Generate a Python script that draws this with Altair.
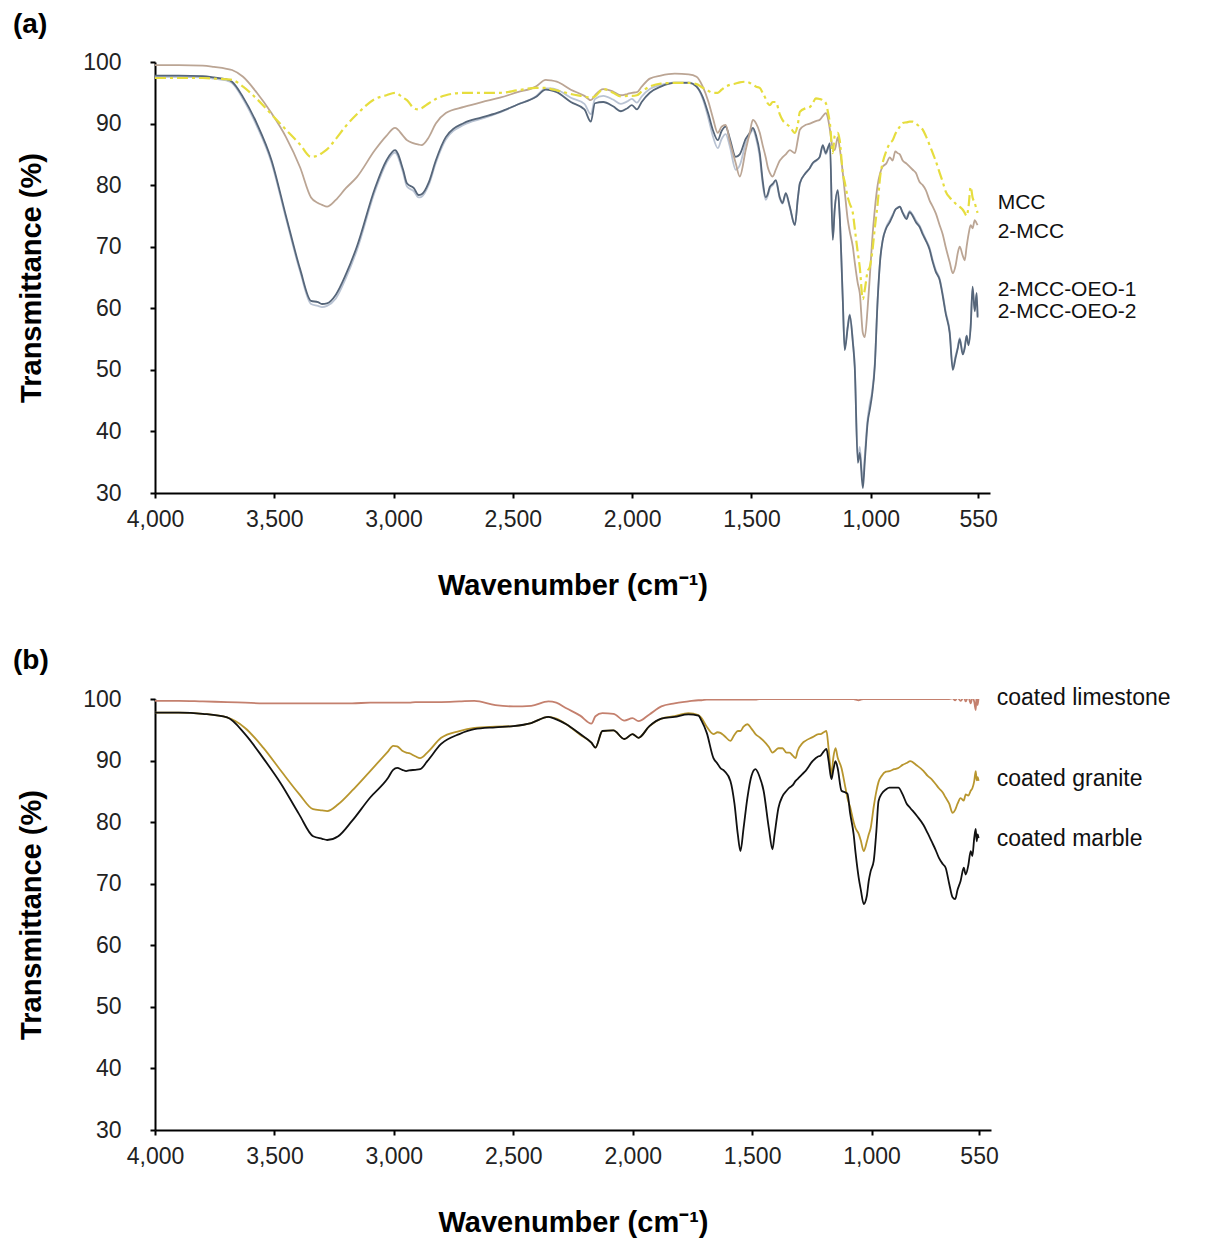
import altair as alt
import pandas as pd

# ---------------- Panel (a) ----------------
WN_A = [4000, 3900, 3800, 3753, 3700, 3677, 3631, 3573, 3512, 3451, 3392, 3346, 3317, 3300, 3279, 3242,
        3200, 3154, 3078, 3030, 2994, 2960, 2944, 2915, 2895, 2883, 2852, 2823, 2781, 2705, 2630, 2554,
        2480, 2404, 2362, 2340, 2316, 2257, 2200, 2173, 2156, 2121, 2080, 2047, 2020, 2001, 1980, 1960,
        1926, 1880, 1821, 1763, 1730, 1704, 1680, 1662, 1641, 1625, 1608, 1590, 1566, 1549, 1524, 1507,
        1494, 1480, 1465, 1453, 1440, 1432, 1423, 1411, 1398, 1381, 1370, 1356, 1339, 1318, 1305, 1297,
        1272, 1255, 1243, 1230, 1214, 1201, 1188, 1180, 1171, 1159, 1151, 1138, 1130, 1117, 1109, 1096,
        1088, 1075, 1067, 1054, 1046, 1033, 1025, 1013, 1004, 994, 983, 971, 960, 950, 935, 920,
        908, 897, 887, 878, 866, 850, 837, 824, 811, 795, 782, 769, 753, 740, 728, 711,
        698, 686, 669, 656, 644, 635, 627, 614, 606, 598, 590, 581, 573, 564, 556, 552]

MCC = [97.4, 97.4, 97.4, 97.3, 97.2, 97.1, 96.0, 94.0, 91.5, 89.0, 86.6, 84.6, 84.8, 85.2, 85.8, 87.5,
       89.6, 91.5, 94.0, 94.6, 95.0, 94.2, 93.8, 92.5, 92.3, 92.5, 93.3, 94.0, 94.6, 95.0, 95.0, 95.0,
       95.4, 95.8, 95.8, 95.6, 95.4, 94.8, 94.4, 94.2, 94.4, 95.6, 95.0, 94.4, 94.5, 94.5, 94.6, 95.2,
       96.0, 96.5, 96.6, 96.6, 96.4, 95.8, 95.3, 95.0, 95.0, 95.5, 96.0, 96.3, 96.5, 96.7, 96.8, 96.6,
       96.3, 96.0, 95.8, 95.0, 94.0, 93.3, 93.0, 93.5, 93.5, 91.5, 90.6, 90.0, 89.5, 88.5, 90.0, 91.9,
       92.5, 92.7, 93.3, 94.1, 94.0, 93.8, 93.3, 92.0, 90.0, 85.2, 88.0, 88.5, 87.3, 82.0, 80.5, 78.0,
       77.0, 75.5, 73.0, 69.0, 66.7, 61.5, 63.0, 66.0, 66.7, 69.0, 73.0, 77.0, 81.5, 83.6, 85.5, 86.8,
       87.3, 88.3, 89.0, 89.5, 90.1, 90.2, 90.3, 90.3, 90.0, 89.5, 89.0, 88.0, 86.5, 85.2, 84.0, 82.0,
       80.5, 79.0, 78.0, 77.5, 77.0, 76.8, 76.5, 76.0, 75.5, 75.0, 76.5, 79.7, 78.0, 77.1, 76.0, 75.5]

MCC2 = [99.5, 99.5, 99.4, 99.2, 98.9, 98.7, 97.6, 95.0, 91.7, 87.8, 82.9, 78.0, 77.1, 76.8, 76.5, 77.6,
        79.5, 81.3, 85.7, 88.0, 89.3, 88.0, 87.3, 86.8, 86.6, 86.5, 87.8, 90.0, 91.7, 92.7, 93.5, 94.2,
        95.1, 96.0, 97.1, 97.0, 96.8, 95.5, 94.5, 93.8, 94.6, 95.6, 95.2, 94.6, 94.8, 95.0, 95.1, 96.0,
        97.3, 97.8, 98.1, 98.0, 97.6, 96.0, 93.5, 91.0, 88.5, 89.5, 89.8, 87.0, 83.6, 81.4, 85.7, 88.5,
        90.6, 90.0, 88.5, 86.5, 84.5, 83.0, 82.0, 81.4, 82.5, 84.0, 84.5, 85.0, 85.7, 85.2, 87.5, 89.0,
        89.8, 90.0, 90.2, 90.4, 90.6, 91.2, 91.7, 91.0, 89.0, 86.0, 85.7, 87.8, 86.0, 82.0, 79.0, 74.3,
        72.5, 70.0, 67.5, 64.0, 62.5, 56.0, 55.3, 60.0, 65.0, 71.0, 76.0, 80.0, 82.0, 83.0, 83.5, 84.5,
        84.0, 85.5, 85.2, 85.0, 84.0, 83.5, 83.0, 82.5, 82.0, 80.5, 80.0, 79.2, 77.5, 76.5, 75.5, 73.5,
        72.0, 70.0, 67.5, 65.7, 67.0, 69.0, 70.0, 68.5, 67.8, 70.0, 72.0, 73.5, 73.0, 74.3, 73.8, 73.5]

OEO1 = [97.6, 97.6, 97.5, 97.3, 97.0, 96.6, 94.0, 89.6, 83.7, 74.6, 66.0, 60.7, 60.4, 60.2, 60.4, 61.6,
        64.9, 69.4, 79.0, 83.6, 85.3, 82.0, 79.8, 79.0, 78.0, 78.1, 80.1, 83.6, 87.4, 89.8, 90.8, 91.8,
        93.1, 94.4, 95.7, 95.7, 95.5, 94.2, 93.2, 91.5, 94.0, 94.5, 93.9, 93.2, 93.6, 94.0, 93.4, 94.4,
        95.6, 96.3, 96.7, 96.7, 96.0, 94.0, 90.8, 88.0, 86.0, 87.5, 88.3, 86.2, 82.5, 83.2, 86.8, 88.2,
        89.0, 87.5, 84.5, 80.2, 77.6, 78.2, 79.4, 80.0, 80.6, 77.8, 77.0, 78.5, 76.3, 73.6, 78.0, 80.3,
        82.0, 82.8, 83.5, 83.9, 84.5, 86.3, 85.0, 85.8, 86.5, 71.5, 76.2, 79.0, 75.0, 61.5, 53.5, 57.2,
        59.0, 54.8, 50.8, 35.5, 37.5, 32.0, 36.0, 42.0, 44.5, 46.5, 51.0, 61.3, 68.0, 71.0, 73.2, 74.3,
        75.2, 76.0, 76.4, 76.5, 75.6, 74.8, 75.8, 75.2, 74.3, 73.4, 72.3, 71.2, 69.8, 67.8, 66.3, 64.8,
        62.3, 59.5, 56.3, 50.5, 52.3, 53.7, 55.2, 52.8, 53.8, 55.6, 54.3, 57.2, 63.2, 59.8, 62.3, 58.8]

OEO2 = [97.8, 97.8, 97.7, 97.5, 97.2, 96.8, 94.3, 90.0, 84.1, 75.0, 66.4, 61.2, 61.0, 60.7, 60.8, 62.2,
        65.5, 70.0, 79.5, 84.0, 85.7, 82.5, 80.3, 79.5, 78.4, 78.5, 80.5, 84.0, 87.8, 90.1, 91.0, 91.9,
        93.1, 94.3, 95.5, 95.4, 95.1, 93.5, 92.3, 90.3, 93.3, 93.5, 92.8, 92.0, 92.5, 93.0, 92.3, 93.5,
        95.0, 96.0, 96.6, 96.6, 96.0, 94.3, 91.5, 89.0, 87.3, 88.8, 89.5, 87.5, 84.6, 85.0, 87.5, 88.5,
        89.3, 88.0, 85.2, 80.8, 78.0, 78.5, 79.7, 80.2, 80.8, 78.0, 77.1, 78.7, 76.5, 73.5, 78.0, 80.3,
        82.0, 82.8, 83.6, 84.0, 84.6, 86.5, 85.2, 86.0, 86.8, 71.1, 76.0, 79.2, 75.0, 61.3, 53.2, 57.0,
        58.9, 54.5, 50.5, 34.9, 36.5, 30.8, 35.0, 41.4, 43.5, 46.0, 50.5, 61.3, 68.0, 71.0, 73.0, 74.0,
        75.0, 76.0, 76.3, 76.5, 75.5, 74.5, 75.6, 75.0, 74.0, 73.2, 72.0, 71.0, 69.5, 67.5, 66.0, 64.6,
        62.0, 59.2, 56.0, 50.0, 52.0, 53.5, 55.0, 52.5, 53.5, 55.5, 54.0, 57.0, 63.5, 59.5, 62.5, 58.5]

LABELS_A = ["MCC", "2-MCC", "2-MCC-OEO-1", "2-MCC-OEO-2"]
LABELS_A_WN = [468, 468, 468, 468]
LABELS_A_VAL = [77.1, 72.4, 63.0, 59.4]

# ---------------- Panel (b) ----------------
WN_B = [4000, 3900, 3800, 3698, 3623, 3547, 3472, 3397, 3338, 3300, 3279, 3233, 3175, 3099, 3024, 3003,
        2986, 2965, 2948, 2936, 2910, 2890, 2860, 2802, 2726, 2663, 2575, 2500, 2425, 2353, 2320, 2278,
        2220, 2173, 2156, 2127, 2081, 2035, 2001, 1976, 1930, 1880, 1825, 1767, 1725, 1712, 1690, 1662,
        1645, 1633, 1616, 1591, 1574, 1560, 1549, 1536, 1520, 1503, 1486, 1470, 1452, 1430, 1415, 1406,
        1390, 1373, 1356, 1344, 1330, 1318, 1310, 1290, 1277, 1247, 1222, 1214, 1200, 1189, 1180, 1168,
        1160, 1151, 1142, 1126, 1109, 1101, 1090, 1075, 1067, 1054, 1045, 1033, 1020, 1012, 1004, 991,
        980, 971, 958, 940, 925, 905, 888, 870, 853, 838, 810, 782, 765, 749, 732, 718,
        702, 690, 675, 661, 650, 640, 627, 614, 606, 595, 585, 578, 570, 564, 560, 556, 552]

LIMESTONE = [99.7, 99.7, 99.6, 99.5, 99.4, 99.3, 99.3, 99.3, 99.3, 99.3, 99.3, 99.3, 99.3, 99.4, 99.4, 99.4,
             99.4, 99.4, 99.4, 99.4, 99.5, 99.5, 99.5, 99.5, 99.6, 99.7, 99.0, 98.8, 98.9, 99.6, 99.4, 98.5,
             97.3, 96.0, 97.2, 97.7, 97.6, 96.5, 96.9, 96.4, 97.5, 98.8, 99.3, 99.6, 99.8, 99.8, 99.9, 99.9,
             99.9, 99.9, 99.9, 99.9, 99.9, 99.9, 99.9, 99.9, 99.9, 99.9, 99.9, 100.0, 100.0, 100.0, 100.0, 100.0,
             100.0, 100.0, 100.0, 100.0, 100.0, 100.0, 100.0, 100.0, 100.0, 100.0, 100.0, 100.0, 100.0, 100.0, 100.0, 100.0,
             100.0, 100.0, 100.0, 100.0, 100.0, 100.0, 100.0, 100.0, 99.9, 99.8, 99.9, 100.0, 100.0, 100.0, 100.0, 100.0,
             100.0, 100.0, 100.0, 100.0, 100.0, 100.0, 100.0, 100.0, 100.0, 100.0, 100.0, 100.0, 100.0, 100.0, 100.0, 100.0,
             100.0, 100.0, 100.0, 100.1, 99.8, 100.2, 99.7, 100.3, 99.6, 100.4, 99.3, 100.3, 99.5, 98.2, 100.5, 99.0, 100.2]

GRANITE = [97.8, 97.8, 97.6, 97.0, 95.3, 92.1, 88.3, 84.6, 82.1, 81.9, 81.8, 82.9, 85.1, 88.3, 91.5, 92.4,
           92.3, 91.6, 91.3, 91.2, 90.7, 90.4, 91.3, 93.7, 94.8, 95.3, 95.5, 95.6, 96.1, 97.1, 96.8, 95.9,
           94.2, 92.9, 92.1, 94.8, 94.9, 93.5, 94.3, 93.7, 95.6, 96.8, 97.2, 97.7, 97.4, 96.9, 95.5, 94.3,
           94.6, 94.5, 94.0, 93.2, 94.2, 94.8, 94.8, 95.5, 95.9, 95.2, 94.3, 93.8, 93.2, 92.2, 91.3, 91.5,
           92.0, 92.0, 91.3, 91.3, 90.8, 90.4, 91.5, 92.8, 93.2, 93.8, 94.3, 94.3, 94.6, 94.8, 92.0, 87.8,
           90.5, 92.0, 90.5, 88.8, 85.5, 83.9, 82.5, 80.0, 79.0, 78.1, 77.0, 75.3, 76.8, 78.0, 79.0, 82.5,
           85.0, 86.5, 87.5, 88.2, 88.3, 88.6, 88.8, 89.3, 89.6, 89.9, 89.2, 88.3, 87.5, 87.0, 86.2, 85.5,
           84.8, 84.0, 83.0, 81.5, 82.0, 83.0, 83.9, 83.5, 84.5, 84.3, 85.1, 85.5, 86.7, 88.3, 86.8, 87.3, 86.7]

MARBLE = [97.8, 97.8, 97.6, 97.0, 94.3, 90.4, 86.2, 81.3, 77.7, 77.3, 77.1, 77.7, 80.2, 84.0, 87.2, 88.5,
          88.8, 88.5, 88.3, 88.4, 88.5, 88.6, 89.9, 92.7, 94.3, 95.1, 95.4, 95.6, 96.1, 97.1, 96.7, 95.9,
          94.3, 92.9, 92.1, 94.8, 94.9, 93.5, 94.3, 93.7, 95.6, 96.8, 97.1, 97.5, 97.3, 96.5, 94.5, 90.4,
          89.5, 88.8, 88.3, 86.7, 83.0, 78.0, 75.3, 79.0, 83.9, 87.5, 88.6, 87.5, 85.1, 79.0, 75.6, 78.0,
          82.3, 84.2, 85.1, 85.6, 86.0, 86.7, 87.0, 87.8, 88.3, 89.9, 90.7, 90.8, 91.5, 91.9, 90.0, 87.0,
          88.5, 89.9, 88.8, 85.1, 84.8, 84.6, 81.5, 78.0, 75.0, 71.0, 69.0, 66.7, 68.0, 70.4, 72.0, 73.7,
          78.5, 83.4, 84.6, 85.3, 85.6, 85.6, 85.6, 84.5, 83.0, 82.3, 81.0, 79.5, 78.2, 76.9, 75.5, 74.2,
          73.2, 72.6, 70.0, 67.8, 67.5, 69.0, 70.5, 72.6, 71.5, 73.0, 75.3, 74.5, 77.5, 78.9, 76.9, 78.0, 77.4]

LABELS_B = ["coated limestone", "coated granite", "coated marble"]
LABELS_B_WN = [476, 476, 476]
LABELS_B_VAL = [100.2, 87.0, 77.3]

X_TICKS = [4000, 3500, 3000, 2500, 2000, 1500, 1000, 550]
Y_TICKS = [30, 40, 50, 60, 70, 80, 90, 100]

FONT = "Liberation Sans"


def enc_x():
    return alt.X("wn:Q",
                 scale=alt.Scale(domain=[4000, 500], nice=False, zero=False),
                 axis=alt.Axis(values=X_TICKS, format=",d", title="Wavenumber (cm⁻¹)",
                               labelFlush=False, labelPadding=10, titlePadding=40))


def enc_y():
    return alt.Y("t:Q",
                 scale=alt.Scale(domain=[30, 100], nice=False, zero=False),
                 axis=alt.Axis(values=Y_TICKS, title="Transmittance (%)",
                               labelPadding=29, titlePadding=36))


def line_layer(wn, vals, color, width=1.8, dash=None):
    df = pd.DataFrame({"wn": wn, "t": vals})
    kw = dict(color=color, strokeWidth=width, clip=True, interpolate="monotone")
    if dash is not None:
        kw["strokeDash"] = dash
    return alt.Chart(df).mark_line(**kw).encode(x=enc_x(), y=enc_y())


def label_layer(names, wns, vals, size):
    df = pd.DataFrame({"label": names, "wn": wns, "t": vals})
    return alt.Chart(df).mark_text(align="left", baseline="middle", fontSize=size,
                                   color="#111111", font=FONT).encode(
        x=alt.X("wn:Q", scale=alt.Scale(domain=[4000, 500], nice=False, zero=False)),
        y=alt.Y("t:Q", scale=alt.Scale(domain=[30, 100], nice=False, zero=False)),
        text="label:N")


panel_a = alt.layer(
    line_layer(WN_A, OEO1, "#b9c3d3"),
    line_layer(WN_A, OEO2, "#56667a"),
    line_layer(WN_A, MCC2, "#bba594"),
    line_layer(WN_A, MCC, "#e6dd3e", width=2.2, dash=[11, 4, 3, 4]),
    label_layer(LABELS_A, LABELS_A_WN, LABELS_A_VAL, 21),
).properties(
    width=835, height=431,
    title=alt.TitleParams("(a)", anchor="start", frame="group", dx=-142, fontSize=28,
                          fontWeight="bold", offset=12, color="black", font=FONT),
)

panel_b = alt.layer(
    line_layer(WN_B, LIMESTONE, "#c4806e"),
    line_layer(WN_B, GRANITE, "#b8962e"),
    line_layer(WN_B, MARBLE, "#111111"),
    label_layer(LABELS_B, LABELS_B_WN, LABELS_B_VAL, 23),
).properties(
    width=836, height=431,
    title=alt.TitleParams("(b)", anchor="start", frame="group", dx=-142, fontSize=28,
                          fontWeight="bold", offset=12, color="black", font=FONT),
)

chart = alt.vconcat(panel_a, panel_b, spacing=46).properties(
    padding={"left": 5, "top": 3, "right": 5, "bottom": 5}
).configure(font=FONT).configure_view(stroke=None).configure_axis(
    grid=False,
    domainColor="black", domainWidth=2,
    tickColor="black", tickWidth=2, tickSize=5,
    labelFont=FONT, labelFontSize=23, labelColor="#222222",
    titleFont=FONT, titleFontSize=29, titleFontWeight="bold", titleColor="black",
)

chart.save("out.html", embed_options={"renderer": "svg", "actions": False})
